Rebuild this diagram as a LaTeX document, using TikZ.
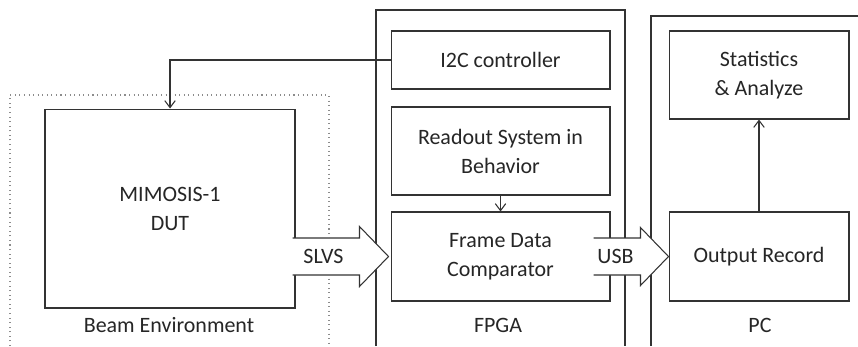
\documentclass[tikz,border=0pt]{standalone}
\usepackage{fontspec}
\setmainfont{Carlito}
\usepackage{tikz}
\usetikzlibrary{positioning, arrows.meta, calc}

\begin{document}
\begin{tikzpicture}[
    x=0.02cm, y=-0.02cm,
    every node/.style={font=\fontsize{12.5}{16.5}\selectfont, text=black!85},
    box/.style={rectangle, draw=black!80, line width=0.6pt, fill=white, align=center, inner sep=2pt, minimum width=#1},
    box/.default=4.38cm,
    frame/.style={draw=black!80, line width=0.6pt},
    zone/.style={draw=black!45, line width=0.6pt, dotted},
    arr/.style={-{Straight Barb[length=4pt, width=6pt]}, draw=black!80, line width=0.6pt},
    bus/.style={draw=black!80, line width=0.6pt, fill=white},
]
\useasboundingbox (0,0) rectangle (858,346);

% surrounding zones (open at the bottom)
\draw[zone] (10,346) -- (10,95) -- (329,95) -- (329,346);
\draw[frame] (376,346) -- (376,10) -- (625,10) -- (625,346);
\draw[frame] (651,346) -- (651,16) -- (858,16);

% beam side
\node[box=5cm, minimum height=3.98cm] (dut) at (170,208.5) {MIMOSIS-1\\DUT};
\node (beamlbl) at (169,325) {Beam Environment};

% FPGA blocks
\node[box, minimum height=1.16cm] (i2c) at (500.5,60) {I2C controller};
\node[box, minimum height=1.76cm] (readout) at (500.5,151) {Readout System in\\Behavior};
\node[box, minimum height=1.78cm] (cmp) at (500.5,256.5) {Frame Data\\Comparator};
\node (fpgalbl) at (498,325) {FPGA};

% PC blocks
\node[box=3.6cm, minimum height=1.76cm] (stats) at (759,75) {Statistics\\\& Analyze};
\node[box=3.6cm, minimum height=1.78cm] (rec) at (759,256.5) {Output Record};
\node (pclbl) at (760,325) {PC};

% thin connectors
\draw[arr] (i2c.west) -| (dut.north);
\draw[arr] (readout.south) -- (cmp.north);
\draw[arr] (rec.north) -- (stats.south);

% block arrows (open at the tail)
\coordinate (slvstail) at (dut.east |- cmp.west);
\draw[bus] ($(slvstail)+(-3,18.5)$) -- ($(cmp.west)+(-31,18.5)$) -- ($(cmp.west)+(-31,30)$)
    -- ($(cmp.west)+(-2,0)$) -- ($(cmp.west)+(-31,-30)$) -- ($(cmp.west)+(-31,-18.5)$) -- ($(slvstail)+(-3,-18.5)$);
\node (slvs) at ($(slvstail)+(28,0)$) {SLVS};

\draw[bus] ($(cmp.east)+(-17,18.5)$) -- ($(rec.west)+(-28,18.5)$) -- ($(rec.west)+(-28,29)$)
    -- (rec.west) -- ($(rec.west)+(-28,-29)$) -- ($(rec.west)+(-28,-18.5)$) -- ($(cmp.east)+(-17,-18.5)$);
\node (usb) at ($(cmp.east)+(5,0)$) {USB};

\end{tikzpicture}
\end{document}
